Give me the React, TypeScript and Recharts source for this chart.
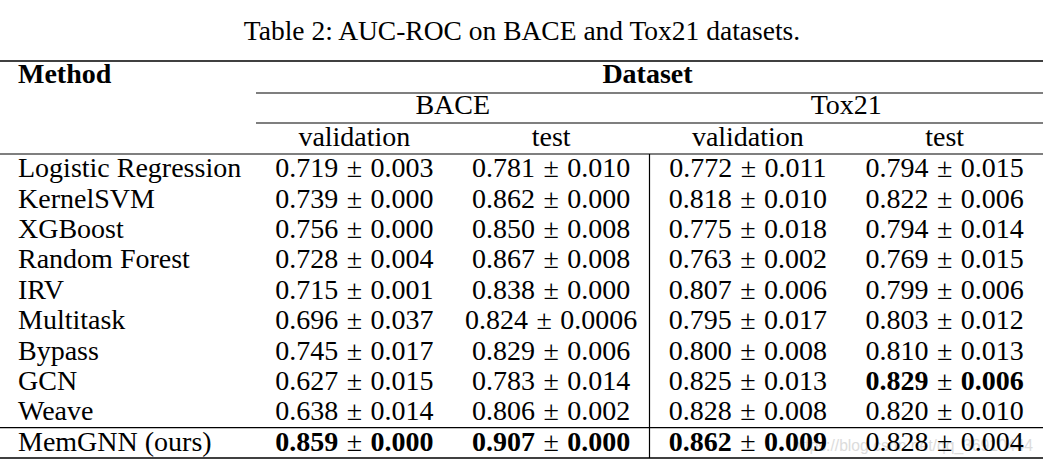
import React from "react";
import { ScatterChart, Scatter, XAxis, YAxis, ReferenceLine, Customized } from "recharts";

// ---------- data ----------
const title = "Table 2: AUC-ROC on BACE and Tox21 datasets.";
const methodHeader = "Method";
const datasetHeader = "Dataset";
const datasets = ["BACE", "Tox21"];
const splits = ["validation", "test"];
const methods = [
  "Logistic Regression",
  "KernelSVM",
  "XGBoost",
  "Random Forest",
  "IRV",
  "Multitask",
  "Bypass",
  "GCN",
  "Weave",
  "MemGNN (ours)",
];
const baceValMean = [0.719, 0.739, 0.756, 0.728, 0.715, 0.696, 0.745, 0.627, 0.638, 0.859];
const baceValStd = [0.003, 0.0, 0.0, 0.004, 0.001, 0.037, 0.017, 0.015, 0.014, 0.0];
const baceTestMean = [0.781, 0.862, 0.85, 0.867, 0.838, 0.824, 0.829, 0.783, 0.806, 0.907];
const baceTestStd = [0.01, 0.0, 0.008, 0.008, 0.0, 0.0006, 0.006, 0.014, 0.002, 0.0];
const toxValMean = [0.772, 0.818, 0.775, 0.763, 0.807, 0.795, 0.8, 0.825, 0.828, 0.862];
const toxValStd = [0.011, 0.01, 0.018, 0.002, 0.006, 0.017, 0.008, 0.013, 0.008, 0.009];
const toxTestMean = [0.794, 0.822, 0.794, 0.769, 0.799, 0.803, 0.81, 0.829, 0.82, 0.828];
const toxTestStd = [0.015, 0.006, 0.014, 0.015, 0.006, 0.012, 0.013, 0.006, 0.01, 0.004];
const bestMethod = ["MemGNN (ours)", "MemGNN (ours)", "MemGNN (ours)", "GCN"];
const watermark = "https://blog.csdn.net/qq_36910444";

// ---------- derived tables ----------
const columnKeys = datasets.flatMap((d) => splits.map((s) => `${d} ${s}`));
const means = [baceValMean, baceTestMean, toxValMean, toxTestMean];
const stds = [baceValStd, baceTestStd, toxValStd, toxTestStd];

const fmt = (v: number) => {
  const s = v.toFixed(3);
  return Math.abs(Number(s) - v) < 1e-9 ? s : String(v);
};

const cells = methods.flatMap((m, i) =>
  columnKeys.map((c, j) => ({
    method: m,
    column: c,
    mean: fmt(means[j][i]),
    std: fmt(stds[j][i]),
    bold: bestMethod[j] === m,
  }))
);
const groupCells = datasets.map((d) => ({ dataset: d, method: methods[0] }));
const headerCells = [{ header: datasetHeader, method: methods[0] }];

// ---------- style ----------
const W = 1051;
const H = 468;
const FONT = "'Liberation Serif', 'Times New Roman', Times, serif";
const FS = 28;
const INK = "#000";
const MARGIN = { top: 61, right: 8, bottom: 10, left: 0 };
const LABEL_W = 256;
const TEXT_LEFT = 18;
const PM_GAP = 8.5;

const ColTick = (props: any) => {
  const { x, y, payload } = props;
  const j = columnKeys.indexOf(payload.value);
  return (
    <text x={x} y={y - 8.5} textAnchor="middle" fontFamily={FONT} fontSize={FS} fill={INK}>
      {splits[j % splits.length]}
    </text>
  );
};

const GroupTick = (props: any) => {
  const { x, y, payload } = props;
  return (
    <text x={x} y={y - 9.5} textAnchor="middle" fontFamily={FONT} fontSize={FS} fill={INK}>
      {payload.value}
    </text>
  );
};

const HeaderTick = (props: any) => {
  const { x, y, payload } = props;
  return (
    <text x={x - 2} y={y - 9.7} textAnchor="middle" fontFamily={FONT} fontSize={FS} fontWeight={700} fill={INK}>
      {payload.value}
    </text>
  );
};

const MethodTick = (props: any) => {
  const { y, payload } = props;
  return (
    <text x={TEXT_LEFT} y={y + 8} textAnchor="start" fontFamily={FONT} fontSize={FS} fill={INK}>
      {payload.value}
    </text>
  );
};

const CellShape = (props: any) => {
  const { cx, cy, payload } = props;
  const w = payload.bold ? 700 : 400;
  return (
    <text x={cx} y={cy + 8} textAnchor="middle" fontFamily={FONT} fontSize={FS} fill={INK}>
      <tspan fontWeight={w}>{payload.mean}</tspan>
      <tspan fontWeight={400} dx={PM_GAP}>{"\u00B1"}</tspan>
      <tspan fontWeight={w} dx={PM_GAP}>{payload.std}</tspan>
    </text>
  );
};

const Empty = () => <g />;

const fullRule = (sw: number) => (p: any) => (
  <line x1={0} y1={p.y1} x2={p.x2} y2={p.y2} stroke={INK} strokeWidth={sw} />
);

const TopLayer = () => (
  <g>
    <text x={522} y={39.5} textAnchor="middle" fontFamily={FONT} fontSize={27.5} fill={INK}>
      {title}
    </text>
    <line x1={0} y1={MARGIN.top} x2={W - MARGIN.right} y2={MARGIN.top} stroke={INK} strokeWidth={1.6} />
    <text x={TEXT_LEFT} y={83.3} textAnchor="start" fontFamily={FONT} fontSize={FS} fontWeight={700} fill={INK}>
      {methodHeader}
    </text>
    <text
      x={792}
      y={451}
      textAnchor="start"
      fontFamily="'Liberation Sans', Arial, sans-serif"
      fontSize={17}
      textLength={241}
      lengthAdjust="spacingAndGlyphs"
      fill="#dcdcdc"
    >
      {watermark}
    </text>
  </g>
);

export default function App() {
  return (
    <div style={{ position: "fixed", left: 0, top: 0, width: W, height: H, background: "#fff" }}>
      <ScatterChart width={W} height={H} margin={MARGIN}>
        <XAxis
          xAxisId="a_col"
          orientation="top"
          dataKey="column"
          type="category"
          allowDuplicatedCategory={false}
          height={31}
          axisLine={false}
          tickLine={false}
          tickSize={0}
          tickMargin={0}
          interval={0}
          tick={<ColTick />}
        />
        <XAxis
          xAxisId="b_grp"
          orientation="top"
          dataKey="dataset"
          type="category"
          allowDuplicatedCategory={false}
          height={30}
          axisLine={{ stroke: INK, strokeWidth: 1.2 }}
          tickLine={false}
          tickSize={0}
          tickMargin={0}
          interval={0}
          tick={<GroupTick />}
        />
        <XAxis
          xAxisId="c_ds"
          orientation="top"
          dataKey="header"
          type="category"
          allowDuplicatedCategory={false}
          height={32}
          axisLine={{ stroke: INK, strokeWidth: 1.2 }}
          tickLine={false}
          tickSize={0}
          tickMargin={0}
          interval={0}
          tick={<HeaderTick />}
        />
        <YAxis
          dataKey="method"
          type="category"
          allowDuplicatedCategory={false}
          width={LABEL_W}
          reversed
          axisLine={false}
          tickLine={false}
          tickSize={0}
          tickMargin={0}
          interval={0}
          tick={<MethodTick />}
        />
        <ReferenceLine xAxisId="a_col" y={methods[0]} position="start" shape={fullRule(1.2)} />
        <ReferenceLine xAxisId="a_col" y={methods[methods.length - 1]} position="start" shape={fullRule(1.2)} />
        <ReferenceLine xAxisId="a_col" y={methods[methods.length - 1]} position="end" shape={fullRule(1.6)} />
        <ReferenceLine xAxisId="a_col" x={columnKeys[2]} position="start" stroke={INK} strokeWidth={1.2} />
        <Customized component={TopLayer} />
        <Scatter xAxisId="b_grp" data={groupCells} shape={Empty} isAnimationActive={false} />
        <Scatter xAxisId="c_ds" data={headerCells} shape={Empty} isAnimationActive={false} />
        <Scatter xAxisId="a_col" data={cells} shape={CellShape} isAnimationActive={false} />
      </ScatterChart>
    </div>
  );
}
